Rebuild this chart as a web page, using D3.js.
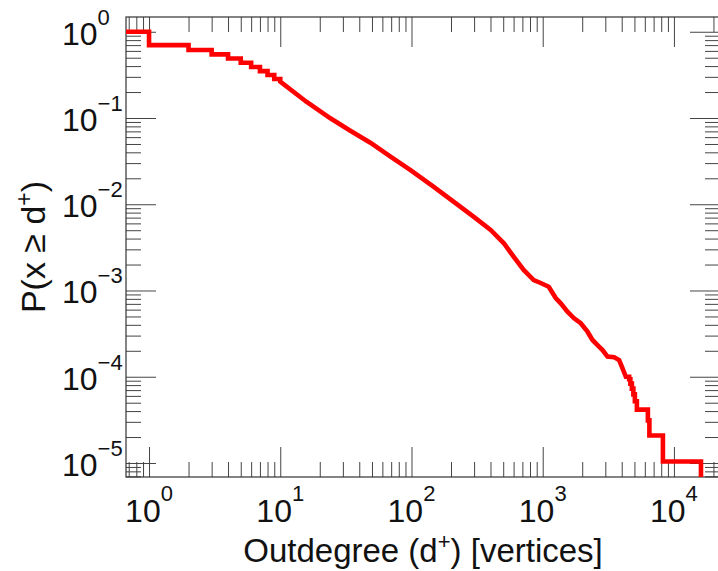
<!DOCTYPE html>
<html>
<head>
<meta charset="utf-8">
<script src="https://cdn.jsdelivr.net/npm/d3@7"></script>
<style>
  html, body { margin: 0; padding: 0; background: #fff; }
  svg { display: block; font-family: "Liberation Sans", Arial, Helvetica, sans-serif; }
</style>
</head>
<body>
<svg id="chart" width="718" height="571"></svg>
<script>
'use strict'

// outdegree where each level of the CCDF starts, and the level P(x >= d+)
const degree = [0.5, 1, 2, 3, 4, 5, 6, 7, 8, 9, 10,
  15.8, 24.1, 34.2, 48.6, 69.2, 98.3, 147, 209, 297, 401, 504, 600, 716, 854, 965, 1111, 1257,
  1372, 1543, 1734, 1950, 2194, 2395, 2616, 2856, 3118, 3502, 3823, 4058, 4301,
  4558, 4656, 4780, 4907, 5038, 5219, 6331, 6501, 8241]
const ccdf = [1, 0.70, 0.614, 0.547, 0.49, 0.438, 0.39, 0.35, 0.315, 0.283, 0.264,
  0.1545, 0.0992, 0.0713, 0.0517, 0.0356, 0.0249, 0.0160, 0.01071, 0.00717, 0.00503, 0.003554, 0.002465, 0.001729, 0.001323, 0.001222, 0.001107, 0.000818,
  0.000710, 0.000568, 0.000476, 0.000417, 0.000333, 0.000267, 0.000233, 0.000204, 0.000171, 0.000168, 0.000156, 0.000125, 0.0001,
  9.36e-5, 8.32e-5, 7.28e-5, 6.24e-5, 5.2e-5, 4.16e-5, 3.12e-5, 2.08e-5, 1.04e-5]
const maxDegree = 16070

// axis extents and labels
const xDomain = [0.6675, 22440]
const yDomain = [6.88e-6, 1.483]
const xMajor = [1, 10, 100, 1000, 10000]
const xExponents = ['0', '1', '2', '3', '4']
const yMajor = [1, 0.1, 0.01, 0.001, 0.0001, 0.00001]
const yExponents = ['0', '\u22121', '\u22122', '\u22123', '\u22124', '\u22125']

const margin = { top: 17, right: -2, bottom: 94, left: 126 }
const W = 718
const H = 571
const width = W - margin.left - margin.right
const height = H - margin.top - margin.bottom

const svg = d3.select('#chart')
const g = svg.append('g').attr('transform', 'translate(' + margin.left + ',' + margin.top + ')')

const x = d3.scaleLog().domain(xDomain).range([0, width])
const y = d3.scaleLog().domain(yDomain).range([height, 0])

const isMajor = v => Math.abs(Math.log10(v) - Math.round(Math.log10(v))) < 1e-6
const xMinor = x.ticks().filter(v => !isMajor(v))
const yMinor = y.ticks().filter(v => !isMajor(v))

// ticks point inward on all four sides
function ticks (axis, values, size, transform) {
  const a = g.append('g')
    .attr('transform', transform)
    .call(axis.tickValues(values).tickSize(-size).tickFormat(''))
  a.select('.domain').remove()
  a.selectAll('line').attr('stroke', '#444').attr('stroke-width', 1)
}
ticks(d3.axisBottom(x), xMinor, 15, 'translate(0,' + height + ')')
ticks(d3.axisBottom(x), xMajor, 30, 'translate(0,' + height + ')')
ticks(d3.axisTop(x), xMinor, 15, 'translate(0,0)')
ticks(d3.axisTop(x), xMajor, 30, 'translate(0,0)')
ticks(d3.axisLeft(y), yMinor, 15, 'translate(0,0)')
ticks(d3.axisLeft(y), yMajor, 30, 'translate(0,0)')
ticks(d3.axisRight(y), yMinor, 15, 'translate(' + width + ',0)')
ticks(d3.axisRight(y), yMajor, 30, 'translate(' + width + ',0)')

g.append('rect')
  .attr('width', width).attr('height', height)
  .attr('fill', 'none').attr('stroke', '#333').attr('stroke-width', 1.2)

// step curve, smooth in the middle where steps are tiny
const pts = []
degree.forEach((d, i) => {
  if (i > 0 && (d <= 10 || d >= 4500)) pts.push([d, ccdf[i - 1]])
  pts.push([d, ccdf[i]])
})
pts.push([maxDegree, ccdf[ccdf.length - 1]])
pts.push([maxDegree, yDomain[0]])

g.append('clipPath').attr('id', 'clip')
  .append('rect').attr('width', width).attr('height', height)

const line = d3.line()
  .x(d => x(d[0]))
  .y(d => y(d[1]))

g.append('path')
  .datum(pts)
  .attr('clip-path', 'url(#clip)')
  .attr('fill', 'none')
  .attr('stroke', '#ff0000')
  .attr('stroke-width', 4.6)
  .attr('stroke-linejoin', 'miter')
  .attr('d', line)

// tick labels as 10 with a raised exponent
svg.append('g').selectAll('text').data(xMajor).join('text')
  .attr('x', d => margin.left + x(d))
  .attr('y', 522)
  .attr('text-anchor', 'middle')
  .attr('font-size', 32)
  .attr('fill', '#111')
  .each(function (d, i) {
    const t = d3.select(this)
    t.append('tspan').text('10')
    t.append('tspan').attr('dy', -21).attr('font-size', 22).text(xExponents[i])
  })

svg.append('g').selectAll('text').data(yMajor).join('text')
  .attr('x', 62)
  .attr('y', d => margin.top + y(d) + 13)
  .attr('font-size', 32)
  .attr('fill', '#111')
  .each(function (d, i) {
    const t = d3.select(this)
    t.append('tspan').text('10')
    t.append('tspan').attr('dy', -20).attr('font-size', 22).text(yExponents[i])
  })

// axis titles
const xt = svg.append('text')
  .attr('x', margin.left + width / 2)
  .attr('y', 562)
  .attr('text-anchor', 'middle')
  .attr('font-size', 33)
  .attr('fill', '#111')
xt.append('tspan').text('Outdegree (d')
xt.append('tspan').attr('dy', -13).attr('font-size', 22).text('+')
xt.append('tspan').attr('dy', 13).text(') [vertices]')

const yt = svg.append('text')
  .attr('transform', 'translate(45,' + (margin.top + height / 2) + ') rotate(-90)')
  .attr('text-anchor', 'middle')
  .attr('font-size', 34)
  .attr('fill', '#111')
yt.append('tspan').text('P(x \u2265 d')
yt.append('tspan').attr('dy', -13).attr('font-size', 23).text('+')
yt.append('tspan').attr('dy', 13).text(')')
</script>
</body>
</html>
